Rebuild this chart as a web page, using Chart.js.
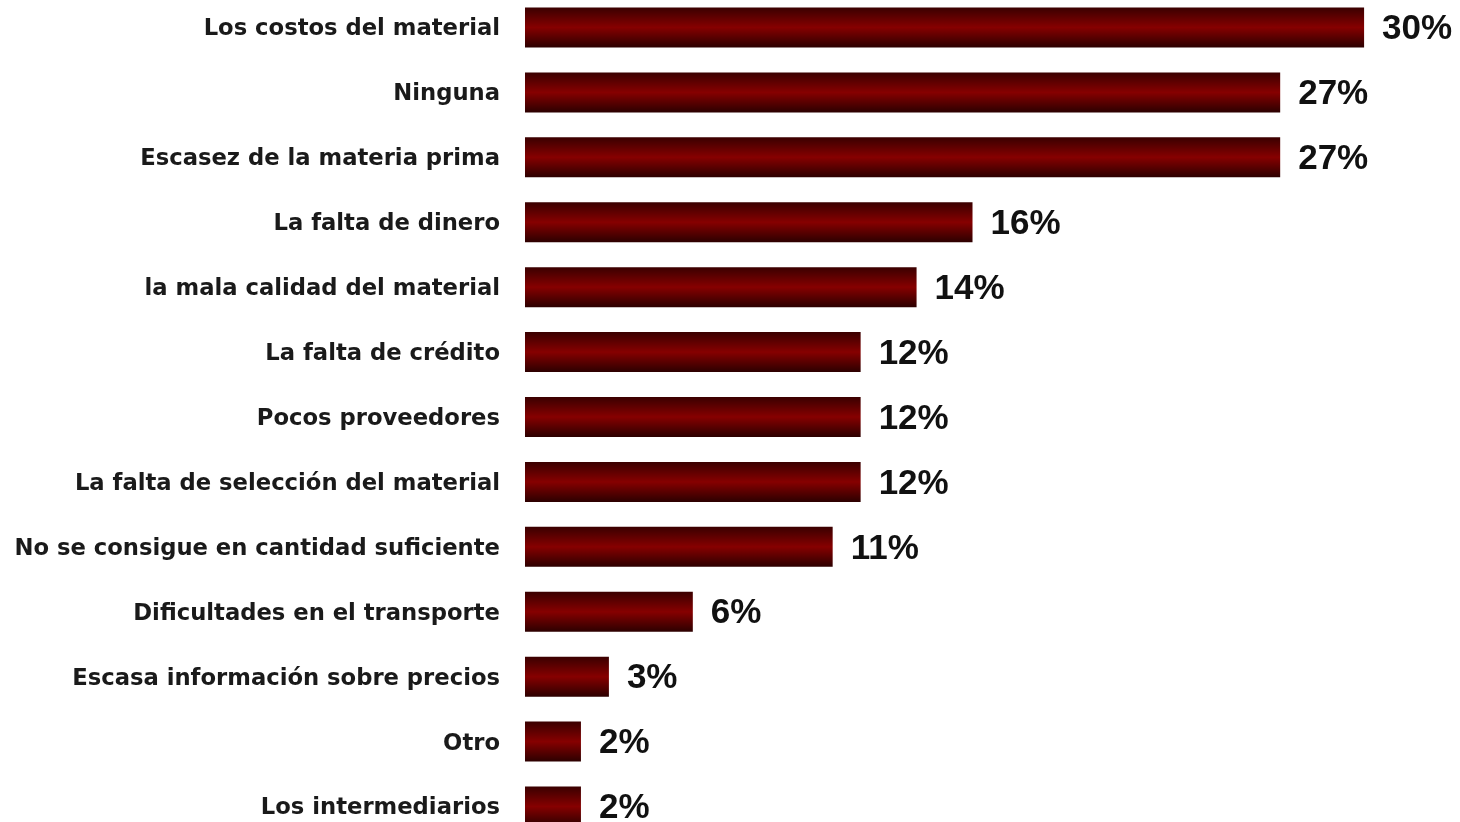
<!DOCTYPE html>
<html>
<head>
<meta charset="utf-8">
<script src="https://cdn.jsdelivr.net/npm/chart.js@4.4.1/dist/chart.umd.min.js"></script>
<style>
  html, body { margin: 0; padding: 0; background: #fff; overflow: hidden; }
  #wrap { position: absolute; left: 0; top: -5px; width: 1460px; height: 844px; }
</style>
</head>
<body>
<div id="wrap"><canvas id="chart" width="1460" height="844"></canvas></div>
<script>
const categories = [
  "Los costos del material",
  "Ninguna",
  "Escasez de la materia prima",
  "La falta de dinero",
  "la mala calidad del material",
  "La falta de crédito",
  "Pocos proveedores",
  "La falta de selección del material",
  "No se consigue en cantidad suficiente",
  "Dificultades en el transporte",
  "Escasa información sobre precios",
  "Otro",
  "Los intermediarios"
];
const values = [30, 27, 27, 16, 14, 12, 12, 12, 11, 6, 3, 2, 2];

// vertical dark-red gradient per bar
function barFill(context) {
  const chart = context.chart;
  const yScale = chart.scales.y;
  if (!yScale || context.dataIndex === undefined) return "#7a0000";
  const yc = yScale.getPixelForValue(context.dataIndex);
  if (!isFinite(yc)) return "#7a0000";
  const h = 20;
  const g = chart.ctx.createLinearGradient(0, yc - h, 0, yc + h);
  g.addColorStop(0, "#3a0000");
  g.addColorStop(0.5, "#860000");
  g.addColorStop(1, "#2c0000");
  return g;
}

// draw the percentage after each bar
const valueLabels = {
  id: "valueLabels",
  afterDatasetsDraw(chart) {
    const ctx = chart.ctx;
    const meta = chart.getDatasetMeta(0);
    ctx.save();
    ctx.font = "bold 35px 'Liberation Sans', Arial, sans-serif";
    ctx.fillStyle = "#111";
    ctx.textAlign = "left";
    ctx.textBaseline = "middle";
    meta.data.forEach((bar, i) => {
      ctx.fillText(values[i] + "%", bar.x + 18, bar.y + 2);
    });
    ctx.restore();
  }
};

new Chart(document.getElementById("chart"), {
  type: "bar",
  data: {
    labels: categories,
    datasets: [{
      data: values,
      backgroundColor: barFill,
      borderWidth: 0,
      barPercentage: 0.616,
      categoryPercentage: 1
    }]
  },
  options: {
    indexAxis: "y",
    responsive: false,
    animation: false,
    devicePixelRatio: 1,
    layout: { padding: { left: 0, right: 12, top: 0, bottom: 0 } },
    plugins: {
      legend: { display: false },
      tooltip: { enabled: false }
    },
    scales: {
      x: {
        display: false,
        min: 0,
        max: 33
      },
      y: {
        grid: { display: false },
        border: { display: false },
        afterFit(scale) {
          scale.width = 525;
          scale.paddingTop = 0;
          scale.paddingBottom = 0;
        },
        ticks: {
          padding: 17,
          labelOffset: 2,
          color: "#1a1a1a",
          font: { family: "'DejaVu Sans', sans-serif", weight: "bold", size: 22.7 }
        }
      }
    }
  },
  plugins: [valueLabels]
});
</script>
</body>
</html>
